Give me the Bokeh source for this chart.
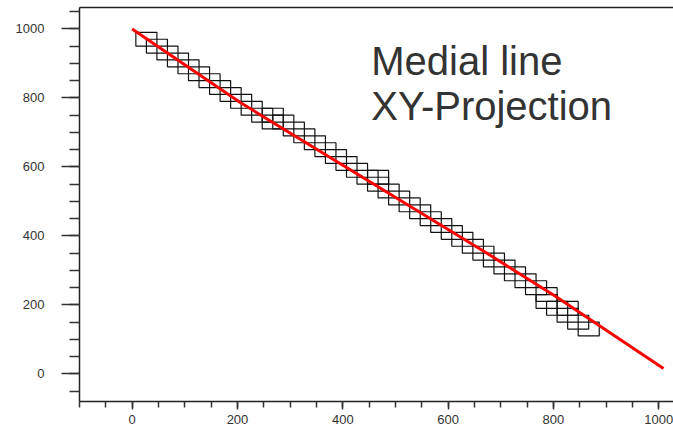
from bokeh.plotting import figure
from bokeh.models import Range1d, LinearAxis, FixedTicker, Label, ColumnDataSource
from bokeh.embed import file_html
from bokeh.resources import INLINE

# Voxel boxes (lower-left corners in data units), each BOX x BOX
box_x = [7, 27, 47, 67, 87, 107, 127, 147, 167, 187, 207, 227, 247, 247, 267, 287,
         307, 327, 347, 367, 387, 407, 427, 447, 447, 467, 487, 507, 527, 547, 567,
         587, 607, 627, 647, 667, 687, 707, 727, 747, 767, 767, 787, 807, 807, 827, 847]
box_y = [950, 930, 910, 890, 870, 850, 830, 810, 790, 770, 750, 730, 730, 710, 710, 690,
         670, 650, 630, 610, 590, 570, 550, 550, 530, 510, 490, 470, 450, 430, 410,
         390, 370, 350, 330, 310, 290, 270, 250, 230, 210, 190, 170, 170, 150, 130, 110]
BOX = 40

# Medial line
line_x = [0, 206, 663, 803, 1009]
line_y = [1000, 786, 360, 226, 16]

title_lines = ["Medial line", "XY-Projection"]
x_ticks = [0, 200, 400, 600, 800, 1000]
y_ticks = [0, 200, 400, 600, 800, 1000]

FONT = "Liberation Sans"

p = figure(width=673, height=437, output_backend="svg", toolbar_location=None,
           x_range=Range1d(-100, 1028), y_range=Range1d(-80, 1062),
           min_border_left=79, min_border_right=0, min_border_top=7, min_border_bottom=36,
           x_axis_type=None, y_axis_type=None)
p.outline_line_color = None
p.background_fill_color = "white"
p.border_fill_color = "white"
p.xgrid.visible = False
p.ygrid.visible = False

src = ColumnDataSource(dict(left=box_x,
                            right=[v + BOX for v in box_x],
                            bottom=box_y,
                            top=[v + BOX for v in box_y]))
p.quad(left="left", right="right", bottom="bottom", top="top", source=src,
       fill_color=None, line_color="#111111", line_width=1.2)

p.line(line_x, line_y, line_color="#ff0000", line_width=3)

def style_axis(ax, tick_out, minor_out, standoff):
    ax.axis_line_color = "#222222"
    ax.axis_line_width = 1.5
    ax.major_tick_line_color = "#333333"
    ax.major_tick_line_width = 1.5
    ax.minor_tick_line_color = "#333333"
    ax.minor_tick_line_width = 1.5
    ax.major_tick_in = 0
    ax.minor_tick_in = 0
    ax.major_tick_out = tick_out
    ax.minor_tick_out = minor_out
    ax.major_label_standoff = standoff
    ax.major_label_text_font = FONT
    ax.major_label_text_font_size = "13px"
    ax.major_label_text_color = "#333333"

yaxis = LinearAxis(ticker=FixedTicker(ticks=y_ticks, minor_ticks=list(range(-50, 1100, 50))))
style_axis(yaxis, 18, 10, 17)
p.add_layout(yaxis, "left")

xaxis = LinearAxis(ticker=FixedTicker(ticks=x_ticks, minor_ticks=list(range(-100, 1050, 50))))
style_axis(xaxis, 8, 6, 5)
p.add_layout(xaxis, "below")

top_axis = LinearAxis(ticker=FixedTicker(ticks=[]))
top_axis.axis_line_color = "#222222"
top_axis.axis_line_width = 1.5
top_axis.major_tick_out = 0
top_axis.major_tick_in = 0
top_axis.minor_tick_out = 0
top_axis.minor_tick_in = 0
top_axis.major_label_standoff = 0
top_axis.major_label_text_font_size = "0px"
p.add_layout(top_axis, "above")

p.add_layout(Label(x=454, y=908, text=title_lines[0], text_font=FONT,
                   text_font_size="40px", text_color="#333333", text_baseline="alphabetic"))
p.add_layout(Label(x=454, y=777, text=title_lines[1], text_font=FONT,
                   text_font_size="40px", text_color="#333333", text_baseline="alphabetic"))

open("out.html", "w").write(file_html(p, INLINE))
